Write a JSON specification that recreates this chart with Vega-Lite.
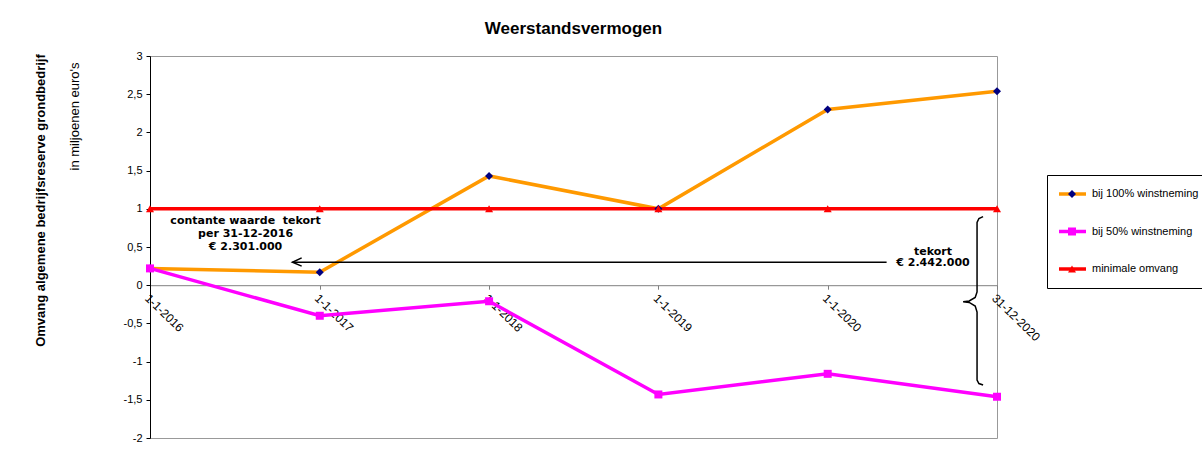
{
  "$schema": "https://vega.github.io/schema/vega-lite/v6.json",
  "width": 847,
  "height": 382,
  "autosize": {"type": "none"},
  "padding": {"left": 150, "top": 56, "right": 205, "bottom": 17},
  "background": "white",
  "title": {"text": "Weerstandsvermogen", "font": "Liberation Sans", "fontSize": 17, "fontWeight": "bold", "color": "black", "anchor": "middle", "frame": "group", "offset": 12},
  "config": {"view": {"stroke": "#999999", "strokeWidth": 1}, "font": "Liberation Sans"},
  "encoding": {
    "x": {
      "field": "date", "type": "temporal",
      "scale": {"type": "utc", "nice": false, "domain": [{"year": 2016, "month": 1, "date": 1, "utc": true}, {"year": 2020, "month": 12, "date": 31, "utc": true}]},
      "axis": {
        "values": [
          {"year": 2016, "month": 1, "date": 1, "utc": true},
          {"year": 2017, "month": 1, "date": 1, "utc": true},
          {"year": 2018, "month": 1, "date": 1, "utc": true},
          {"year": 2019, "month": 1, "date": 1, "utc": true},
          {"year": 2020, "month": 1, "date": 1, "utc": true},
          {"year": 2020, "month": 12, "date": 31, "utc": true}
        ],
        "labelExpr": "utcFormat(datum.value, '%-d-%-m-%Y')",
        "labelAngle": 44, "labelAlign": "left", "labelBaseline": "top",
        "offset": -152.8, "domainColor": "#808080", "tickColor": "#808080", "tickSize": 4,
        "labelFont": "Liberation Sans", "labelFontSize": 12, "labelColor": "black", "labelPadding": 3,
        "title": null, "grid": false, "labelOverlap": false, "labelBound": false, "labelFlush": false
      }
    },
    "y": {"field": "value", "type": "quantitative", "scale": {"domain": [-2, 3], "nice": false, "zero": false}, "axis": null}
  },
  "layer": [
    {
      "data": {"values": [
        {"date": "2016-01-01", "series": "bij 100% winstneming", "value": 0.22},
        {"date": "2017-01-01", "series": "bij 100% winstneming", "value": 0.17},
        {"date": "2018-01-01", "series": "bij 100% winstneming", "value": 1.43},
        {"date": "2019-01-01", "series": "bij 100% winstneming", "value": 1.0},
        {"date": "2020-01-01", "series": "bij 100% winstneming", "value": 2.30},
        {"date": "2020-12-31", "series": "bij 100% winstneming", "value": 2.54},
        {"date": "2016-01-01", "series": "bij 50% winstneming", "value": 0.22},
        {"date": "2017-01-01", "series": "bij 50% winstneming", "value": -0.40},
        {"date": "2018-01-01", "series": "bij 50% winstneming", "value": -0.21},
        {"date": "2019-01-01", "series": "bij 50% winstneming", "value": -1.43},
        {"date": "2020-01-01", "series": "bij 50% winstneming", "value": -1.16},
        {"date": "2020-12-31", "series": "bij 50% winstneming", "value": -1.46},
        {"date": "2016-01-01", "series": "minimale omvang", "value": 1},
        {"date": "2017-01-01", "series": "minimale omvang", "value": 1},
        {"date": "2018-01-01", "series": "minimale omvang", "value": 1},
        {"date": "2019-01-01", "series": "minimale omvang", "value": 1},
        {"date": "2020-01-01", "series": "minimale omvang", "value": 1},
        {"date": "2020-12-31", "series": "minimale omvang", "value": 1}
      ]},
      "mark": {"type": "line", "strokeWidth": 3.5},
      "encoding": {
        "stroke": {
          "field": "series", "type": "nominal", "sort": "ascending",
          "scale": {"range": ["#FF9900", "#FF00FF", "#FF0000"]},
          "legend": {"orient": "none", "legendX": 897, "legendY": 119, "title": null, "symbolType": "stroke", "symbolStrokeWidth": 3.5, "symbolSize": 729, "labelFont": "Liberation Sans", "labelFontSize": 11, "labelColor": "black", "labelOffset": 4, "padding": 10, "strokeColor": "black", "clipHeight": 18, "rowPadding": 19.5}
        },
        "y": {
          "field": "value", "type": "quantitative", "scale": {"domain": [-2, 3], "nice": false, "zero": false},
          "axis": {
            "orient": "left",
            "values": [-2, -1.5, -1, -0.5, 0, 0.5, 1, 1.5, 2, 2.5, 3],
            "labelExpr": "replace(toString(datum.value), '.', ',')",
            "domainColor": "black", "tickColor": "black", "tickSize": 4, "grid": false,
            "labelFont": "Liberation Sans", "labelFontSize": 11, "labelColor": "black", "labelPadding": 4,
            "title": "in miljoenen euro's", "titleFont": "Liberation Sans", "titleFontSize": 13, "titleFontWeight": "normal", "titleColor": "black",
            "titleX": -76, "titleY": 6, "titleAlign": "right", "titleAngle": -90, "titleBaseline": "middle"
          }
        }
      }
    },
    {
      "data": {"values": [
        {"date": "2016-01-01", "reeks": "bij 100% winstneming", "value": 0.22},
        {"date": "2017-01-01", "reeks": "bij 100% winstneming", "value": 0.17},
        {"date": "2018-01-01", "reeks": "bij 100% winstneming", "value": 1.43},
        {"date": "2019-01-01", "reeks": "bij 100% winstneming", "value": 1.0},
        {"date": "2020-01-01", "reeks": "bij 100% winstneming", "value": 2.30},
        {"date": "2020-12-31", "reeks": "bij 100% winstneming", "value": 2.54},
        {"date": "2016-01-01", "reeks": "bij 50% winstneming", "value": 0.22},
        {"date": "2017-01-01", "reeks": "bij 50% winstneming", "value": -0.40},
        {"date": "2018-01-01", "reeks": "bij 50% winstneming", "value": -0.21},
        {"date": "2019-01-01", "reeks": "bij 50% winstneming", "value": -1.43},
        {"date": "2020-01-01", "reeks": "bij 50% winstneming", "value": -1.16},
        {"date": "2020-12-31", "reeks": "bij 50% winstneming", "value": -1.46},
        {"date": "2016-01-01", "reeks": "minimale omvang", "value": 1},
        {"date": "2017-01-01", "reeks": "minimale omvang", "value": 1},
        {"date": "2018-01-01", "reeks": "minimale omvang", "value": 1},
        {"date": "2019-01-01", "reeks": "minimale omvang", "value": 1},
        {"date": "2020-01-01", "reeks": "minimale omvang", "value": 1},
        {"date": "2020-12-31", "reeks": "minimale omvang", "value": 1}
      ]},
      "mark": {"type": "point", "filled": true, "size": 64, "opacity": 1, "strokeWidth": 0},
      "encoding": {
        "fill": {
          "field": "reeks", "type": "nominal",
          "scale": {"domain": ["bij 100% winstneming", "bij 50% winstneming", "minimale omvang"], "range": ["#000080", "#FF00FF", "#FF0000"]},
          "legend": {"orient": "none", "legendX": 907, "legendY": 119, "title": null, "padding": 10, "clipHeight": 18, "rowPadding": 19.5, "labelExpr": "''", "symbolSize": 64, "symbolStrokeWidth": 0, "symbolOpacity": 1}
        },
        "shape": {
          "field": "reeks", "type": "nominal",
          "scale": {"domain": ["bij 100% winstneming", "bij 50% winstneming", "minimale omvang"], "range": ["diamond", "square", "triangle-up"]},
          "legend": {"orient": "none", "legendX": 907, "legendY": 119, "title": null, "padding": 10, "clipHeight": 18, "rowPadding": 19.5, "labelExpr": "''", "symbolSize": 64, "symbolStrokeWidth": 0, "symbolOpacity": 1}
        },
        "y": {
          "field": "value", "type": "quantitative", "scale": {"domain": [-2, 3], "nice": false, "zero": false},
          "axis": {
            "orient": "left", "labels": false, "ticks": false, "domain": false, "grid": false,
            "title": "Omvang algemene bedrijfsreserve grondbedrijf", "titleFont": "Liberation Sans", "titleFontSize": 13, "titleFontWeight": "bold", "titleColor": "black",
            "titleX": -110, "titleY": 144, "titleAlign": "center", "titleAngle": -90, "titleBaseline": "middle"
          }
        }
      }
    },
    {
      "data": {"values": [{"date": "2016-11-03", "date2": "2020-05-07", "value": 0.30}]},
      "mark": {"type": "rule", "color": "black", "strokeWidth": 1.5},
      "encoding": {"x2": {"field": "date2"}}
    },
    {
      "data": {"values": [
        {"date": "2016-11-23", "value": 0.357, "o": 1},
        {"date": "2016-11-03", "value": 0.30, "o": 2},
        {"date": "2016-11-23", "value": 0.249, "o": 3}
      ]},
      "mark": {"type": "line", "color": "black", "strokeWidth": 1.5},
      "encoding": {"order": {"field": "o", "type": "quantitative"}}
    },
    {
      "data": {"values": [
        {"date": "2020-12-01", "value": 0.897, "o": 1},
        {"date": "2020-11-22", "value": 0.873, "o": 2},
        {"date": "2020-11-18", "value": 0.821, "o": 3},
        {"date": "2020-11-18", "value": -0.089, "o": 4},
        {"date": "2020-11-14", "value": -0.161, "o": 5},
        {"date": "2020-11-01", "value": -0.207, "o": 6},
        {"date": "2020-10-19", "value": -0.216, "o": 7},
        {"date": "2020-11-01", "value": -0.226, "o": 8},
        {"date": "2020-11-14", "value": -0.272, "o": 9},
        {"date": "2020-11-18", "value": -0.351, "o": 10},
        {"date": "2020-11-18", "value": -1.241, "o": 11},
        {"date": "2020-11-22", "value": -1.287, "o": 12},
        {"date": "2020-12-01", "value": -1.306, "o": 13}
      ]},
      "mark": {"type": "line", "color": "black", "strokeWidth": 1.5},
      "encoding": {"order": {"field": "o", "type": "quantitative"}}
    },
    {
      "data": {"values": [
        {"date": "2016-07-25", "value": 0.844, "label": "contante waarde \u00a0tekort"},
        {"date": "2016-07-25", "value": 0.670, "label": "per 31-12-2016"},
        {"date": "2016-07-25", "value": 0.504, "label": "€ 2.301.000"},
        {"date": "2020-08-15", "value": 0.438, "label": "tekort"},
        {"date": "2020-08-15", "value": 0.287, "label": "€ 2.442.000"}
      ]},
      "mark": {"type": "text", "font": "DejaVu Sans", "fontSize": 11, "fontWeight": "bold", "color": "black", "align": "center", "baseline": "middle"},
      "encoding": {"text": {"field": "label"}}
    }
  ],
  "resolve": {"axis": {"y": "independent"}}
}
